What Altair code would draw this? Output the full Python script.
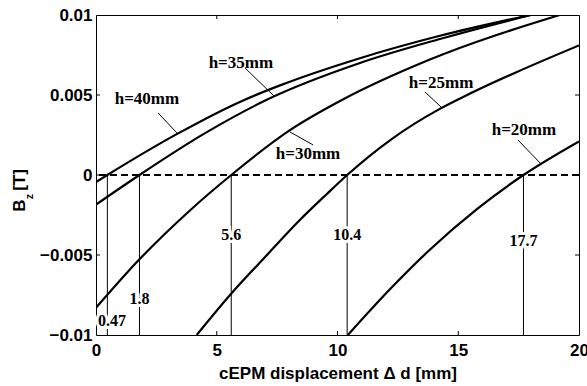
import altair as alt
import pandas as pd

# B_z [T] against cEPM displacement Δd [mm], one curve per height h
heights = ["h=40mm", "h=35mm", "h=30mm", "h=25mm", "h=20mm"]
h40_d = [0, 0.47, 3.4, 6.0, 7.62, 10.93, 14.24, 18.0]
h40_b = [-0.00044, 0, 0.0026, 0.0046, 0.0056, 0.0073, 0.0087, 0.01]
h35_d = [0, 1.8, 4.5, 7.07, 10.93, 14.24, 18.0]
h35_b = [-0.00185, 0, 0.0026, 0.0047, 0.0070, 0.0085, 0.01]
h30_d = [0, 1.78, 3.9, 5.6, 8.03, 10.2, 13.8, 19.2]
h30_b = [-0.0083, -0.0053, -0.0022, 0, 0.0028, 0.0047, 0.0072, 0.01]
h25_d = [4.17, 5.55, 7.08, 8.45, 9.55, 10.4, 12.2, 14.2, 15.1, 20]
h25_b = [-0.01, -0.0075, -0.0050, -0.0028, -0.0012, 0, 0.0022, 0.0041, 0.0048, 0.0081]
h20_d = [10.43, 12.2, 13.8, 15.8, 17.7, 20]
h20_b = [-0.01, -0.0071, -0.0047, -0.0021, 0, 0.0021]

# zero-crossing displacements
crossings = [0.47, 1.8, 5.6, 10.4, 17.7]

x_ticks = [0, 5, 10, 15, 20]
y_ticks = [-0.01, -0.005, 0, 0.005, 0.01]

W, H = 483, 320

series = [(heights[0], h40_d, h40_b), (heights[1], h35_d, h35_b),
          (heights[2], h30_d, h30_b), (heights[3], h25_d, h25_b),
          (heights[4], h20_d, h20_b)]
rows = []
for name, ds, bs in series:
    for d, b in zip(ds, bs):
        rows.append({"h": name, "d": d, "b": b})
curves = pd.DataFrame(rows)

x_scale = alt.Scale(domain=[x_ticks[0], x_ticks[-1]], nice=False, zero=False)
y_scale = alt.Scale(domain=[y_ticks[0], y_ticks[-1]], nice=False, zero=False)

sans = "Liberation Sans"
serif = "Liberation Serif"
x_title = "cEPM displacement Δ d [mm]"

x_axis = alt.Axis(values=x_ticks, format="~g", labelFont=sans, labelFontWeight="bold",
                  labelFontSize=17, labelColor="black", labelPadding=7, ticks=False,
                  tickSize=0, domain=False, grid=False, labelFlush=False,
                  labelOverlap=False, titleFont=sans, titleFontWeight="bold",
                  titleFontSize=17, titleColor="black", titlePadding=7)
y_axis = alt.Axis(values=y_ticks, format="~g", labelFont=sans, labelFontWeight="bold",
                  labelFontSize=17, labelColor="black", labelPadding=4, ticks=False,
                  tickSize=0, domain=False, grid=False, labelFlush=False,
                  labelOverlap=False)


def X(field):
    return alt.X(field, scale=x_scale, axis=x_axis, title=x_title)


def Y(field):
    return alt.Y(field, scale=y_scale, axis=y_axis, title=None)


lines = alt.Chart(curves).mark_line(
    color="black", strokeWidth=2.2, interpolate="monotone", clip=True
).encode(x=X("d:Q"), y=Y("b:Q"), detail="h:N")

# dashed B_z = 0 reference line
zero_line = alt.Chart(pd.DataFrame({"z": [0]})).mark_rule(
    color="black", strokeWidth=2, strokeDash=[7, 4]
).encode(y=Y("z:Q"))

# vertical drops from the bottom edge to each crossing
cross_df = pd.DataFrame({"c": crossings, "lo": [y_ticks[0]] * len(crossings),
                         "hi": [0] * len(crossings)})
drops = alt.Chart(cross_df).mark_rule(color="black", strokeWidth=1).encode(
    x=X("c:Q"), y=Y("lo:Q"), y2="hi:Q")

# crossing value labels
cross_lbl = pd.DataFrame({
    "t": [f"{c:g}" for c in crossings],
    "x": [0.66, 1.8, 5.6, 10.4, 17.7],
    "y": [-0.0091, -0.00775, -0.00375, -0.00375, -0.0041],
})
cross_halo = alt.Chart(cross_lbl).mark_text(
    font=serif, fontWeight="bold", fontSize=16, color="white", stroke="white",
    strokeWidth=6, baseline="middle", align="center"
).encode(x=X("x:Q"), y=Y("y:Q"), text="t:N")
cross_text = alt.Chart(cross_lbl).mark_text(
    font=serif, fontWeight="bold", fontSize=16, color="black",
    baseline="middle", align="center"
).encode(x=X("x:Q"), y=Y("y:Q"), text="t:N")

# curve name labels with leader lines
name_lbl = pd.DataFrame({
    "t": heights,
    "x": [2.11, 6.0, 8.78, 14.29, 17.72],
    "y": [0.00475, 0.0070, 0.00131, 0.00575, 0.00281],
})
name_text = alt.Chart(name_lbl).mark_text(
    font=serif, fontWeight="bold", fontSize=17, color="black",
    baseline="middle", align="center"
).encode(x=X("x:Q"), y=Y("y:Q"), text="t:N")

leaders = pd.DataFrame({
    "x1": [2.57, 6.17, 8.99, 13.62, 17.47],
    "y1": [0.00388, 0.00669, 0.00188, 0.00519, 0.00219],
    "x2": [3.35, 7.41, 8.03, 14.33, 18.39],
    "y2": [0.00263, 0.00488, 0.00269, 0.00419, 0.00075],
})
leader_rules = alt.Chart(leaders).mark_rule(color="black", strokeWidth=1).encode(
    x=X("x1:Q"), x2="x2:Q", y=Y("y1:Q"), y2="y2:Q")

# inward tick marks on all four sides
xt = pd.DataFrame({"t": x_ticks[1:-1]})
yt = pd.DataFrame({"t": y_ticks[1:-1]})
tick_bottom = alt.Chart(xt).mark_rule(color="black", strokeWidth=1).encode(
    x=X("t:Q"), y=alt.value(H), y2=alt.value(H - 4))
tick_top = alt.Chart(xt).mark_rule(color="black", strokeWidth=1).encode(
    x=X("t:Q"), y=alt.value(0), y2=alt.value(4))
tick_left = alt.Chart(yt).mark_rule(color="black", strokeWidth=1).encode(
    y=Y("t:Q"), x=alt.value(0), x2=alt.value(4))
tick_right = alt.Chart(yt).mark_rule(color="black", strokeWidth=1).encode(
    y=Y("t:Q"), x=alt.value(W), x2=alt.value(W - 4))


# y-axis title "B_z [T]" built from rotated text pieces
def title_piece(s, px, py, fs):
    return alt.Chart(pd.DataFrame({"s": [s]})).mark_text(
        font=sans, fontWeight="bold", angle=270, color="black", fontSize=fs,
        baseline="middle", align="center"
    ).encode(text="s:N", x=alt.value(px), y=alt.value(py))


ytitle = [title_piece("B", -76.5, 190.5, 17), title_piece("z", -66, 181.5, 11),
          title_piece("[T]", -76, 165, 17)]

chart = alt.layer(
    zero_line, drops, leader_rules, lines, cross_halo, cross_text, name_text,
    tick_bottom, tick_top, tick_left, tick_right, *ytitle
).properties(
    width=W, height=H,
    padding={"left": 96, "top": 15, "right": 8, "bottom": 51},
    autosize=alt.AutoSizeParams(type="none"),
    background="white",
).configure_view(stroke="black", strokeWidth=1)

chart.save("out.html", embed_options={"renderer": "svg", "actions": False})
